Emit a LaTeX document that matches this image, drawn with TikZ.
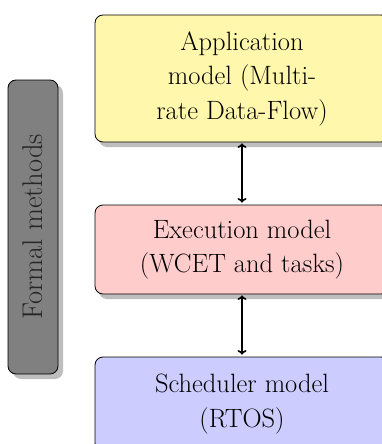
\documentclass[tikz,border=0pt]{standalone}
\usetikzlibrary{shadows,arrows.meta}
\definecolor{appyellow}{RGB}{255,247,171}
\definecolor{exepink}{RGB}{255,204,204}
\definecolor{schedblue}{RGB}{204,204,255}
\definecolor{methgray}{RGB}{128,128,128}
\definecolor{shadowgray}{RGB}{190,190,190}
\begin{document}
\begin{tikzpicture}[x=1pt,y=-1pt,
  modelbox/.style={draw=black, line width=0.8pt, rounded corners=8pt,
    minimum width=294pt, align=center, inner sep=0pt,
    font=\fontsize{26.5}{34.5}\selectfont,
    drop shadow={shadow xshift=4pt, shadow yshift=-5pt, fill=shadowgray, opacity=1}},
  methbox/.style={draw=black, line width=0.8pt, rounded corners=8pt, fill=methgray,
    minimum width=294pt, minimum height=50pt, inner sep=0pt, rotate=90,
    font=\fontsize{28.5}{35}\selectfont, text=black!85,
    drop shadow={shadow xshift=5pt, shadow yshift=-5pt, fill=shadowgray, opacity=1}},
  biarrow/.style={line width=1.7pt,
    {Computer Modern Rightarrow[width=9pt,length=4.5pt]}-{Computer Modern Rightarrow[width=9pt,length=4.5pt]}}
]
\useasboundingbox (0,0) rectangle (382,444);
\node[methbox] (fm) at (33,227) {Formal methods};
\node[modelbox, fill=appyellow, minimum height=127pt] (app) at (242,78.5)
  {Application\\model (Multi-\\rate Data-Flow)};
\node[modelbox, fill=exepink, minimum height=89pt] (exe) at (242,249.5)
  {Execution model\\(WCET and tasks)};
\node[modelbox, fill=schedblue, minimum height=94pt] (sch) at (242,404)
  {Scheduler model\\(RTOS)};
\draw[biarrow] ([yshift=-1pt]app.south) -- ([yshift=2pt]exe.north);
\draw[biarrow] ([yshift=-1pt]exe.south) -- ([yshift=2pt]sch.north);
\end{tikzpicture}
\end{document}
